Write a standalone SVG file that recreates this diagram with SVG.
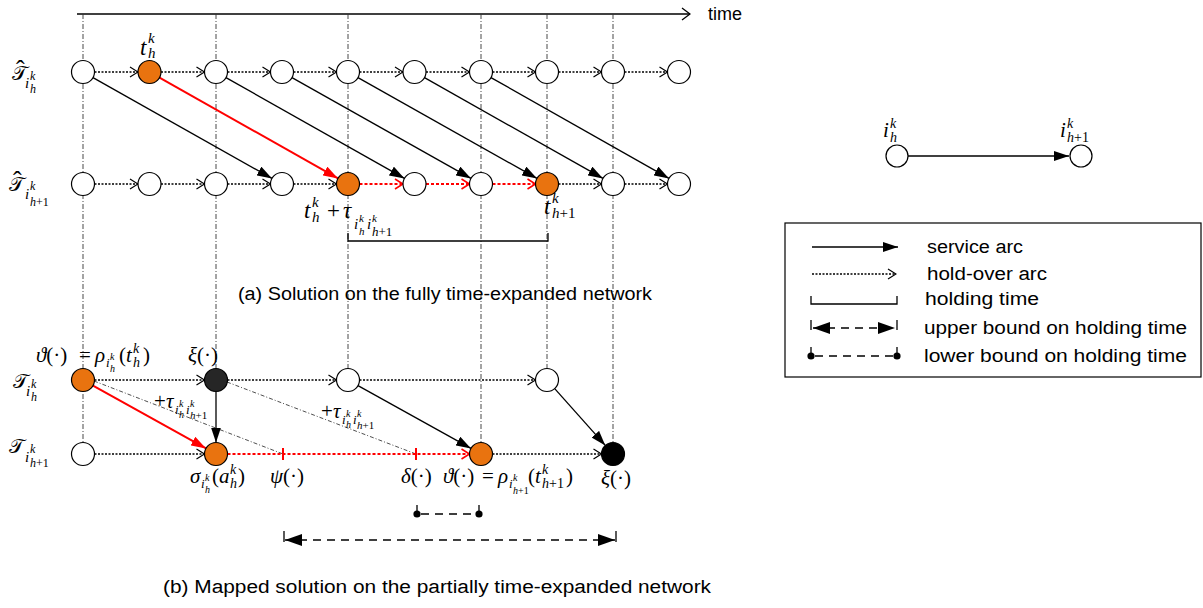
<svg xmlns="http://www.w3.org/2000/svg" width="1203" height="608" viewBox="0 0 1203 608">
  <style>
    .grid{stroke:#333;stroke-width:0.9;stroke-dasharray:5,2,1,2;fill:none}
    .guide{stroke:#222;stroke-width:0.8;stroke-dasharray:4,2,1,2;fill:none}
    .node{stroke:#000;stroke-width:1.2;fill:#fff}
    .sel{fill:#E9730F}
    .dark{fill:#262626}
    .blk{fill:#000}
    .svc{stroke:#000;stroke-width:1.3;fill:none;marker-end:url(#tri)}
    .svc-r{stroke:#f00;stroke-width:2;fill:none;marker-end:url(#tri-r)}
    .hold{stroke:#000;stroke-width:1.3;stroke-dasharray:2,1.5;fill:none;marker-end:url(#chev)}
    .hold-r{stroke:#f00;stroke-width:1.9;stroke-dasharray:3,2;fill:none;marker-end:url(#chev-r)}
    .line{stroke:#000;stroke-width:1.3;fill:none}
    .dash{stroke:#000;stroke-width:1.3;stroke-dasharray:8,6;fill:none}
    .txt{font-family:"Liberation Sans",Arial,sans-serif;font-size:18px;fill:#000}
    .mi{font-family:"Liberation Serif","DejaVu Serif",serif;font-style:italic;font-size:21px;fill:#000}
    .sc{font-family:"DejaVu Serif","DejaVu Sans","Noto Sans",serif;font-style:normal;font-size:20px}
    .hat{font-family:"Liberation Serif",serif;font-style:normal;font-size:26px}
    .u{font-style:normal}
    .big{font-size:23px}
    .s15{font-size:15px}
    .s14{font-size:14px}
    .s13{font-size:13px}
    .s12{font-size:12px}
    .s11{font-size:11px}
    .s10{font-size:10px}
  </style>
  <defs>
    <marker id="tri" viewBox="0 0 15 10" refX="15" refY="5" markerWidth="15" markerHeight="10" markerUnits="userSpaceOnUse" orient="auto">
      <path d="M0,0 L15,5 L0,10 z" fill="#000"/>
    </marker>
    <marker id="tri-r" viewBox="0 0 15 10" refX="15" refY="5" markerWidth="15" markerHeight="10" markerUnits="userSpaceOnUse" orient="auto">
      <path d="M0,0 L15,5 L0,10 z" fill="#f00"/>
    </marker>
    <marker id="tri-rev" viewBox="0 0 17 12" refX="0" refY="6" markerWidth="17" markerHeight="12" markerUnits="userSpaceOnUse" orient="auto">
      <path d="M0,6 L17,0 L17,12 z" fill="#000"/>
    </marker>
    <marker id="tri-fwd" viewBox="0 0 17 12" refX="17" refY="6" markerWidth="17" markerHeight="12" markerUnits="userSpaceOnUse" orient="auto">
      <path d="M0,0 L17,6 L0,12 z" fill="#000"/>
    </marker>
    <marker id="chev" viewBox="-1 -1 10 12" refX="8" refY="5" markerWidth="10" markerHeight="12" markerUnits="userSpaceOnUse" orient="auto">
      <path d="M0,0 L8,5 L0,10" fill="none" stroke="#000" stroke-width="1.2"/>
    </marker>
    <marker id="chev-r" viewBox="-1 -1 10 12" refX="8" refY="5" markerWidth="10" markerHeight="12" markerUnits="userSpaceOnUse" orient="auto">
      <path d="M0,0 L8,5 L0,10" fill="none" stroke="#f00" stroke-width="1.6"/>
    </marker>
    <marker id="chev-axis" viewBox="-1 -1 10 14" refX="8" refY="6" markerWidth="10" markerHeight="14" markerUnits="userSpaceOnUse" orient="auto">
      <path d="M0,0 L8,6 L0,12" fill="none" stroke="#000" stroke-width="1.3"/>
    </marker>
  </defs>

  <!-- time axis and vertical time grid -->
  <g id="time-axis">
    <line x1="77" y1="14" x2="690" y2="14" stroke="#000" stroke-width="1.3" marker-end="url(#chev-axis)"/>
    <text class="txt" x="708" y="20" font-size="19">time</text>
    <line class="grid" x1="83" y1="14" x2="83" y2="443"/>
    <line class="grid" x1="216" y1="14" x2="216" y2="369"/>
    <line class="grid" x1="348" y1="14" x2="348" y2="369"/>
    <line class="grid" x1="481" y1="14" x2="481" y2="443"/>
    <line class="grid" x1="547" y1="14" x2="547" y2="369"/>
    <line class="grid" x1="613" y1="14" x2="613" y2="443"/>
  </g>

  <!-- connectors -->
  <g id="connectors">
    <!-- (a) hold-over arcs, upper row -->
    <line class="hold" x1="94.5" y1="72" x2="138" y2="72"/>
    <line class="hold" x1="161" y1="72" x2="204.5" y2="72"/>
    <line class="hold" x1="227.5" y1="72" x2="270.5" y2="72"/>
    <line class="hold" x1="293.5" y1="72" x2="336.5" y2="72"/>
    <line class="hold" x1="359.5" y1="72" x2="403" y2="72"/>
    <line class="hold" x1="426" y1="72" x2="469.5" y2="72"/>
    <line class="hold" x1="492.5" y1="72" x2="535.5" y2="72"/>
    <line class="hold" x1="558.5" y1="72" x2="601.5" y2="72"/>
    <line class="hold" x1="624.5" y1="72" x2="667.5" y2="72"/>
    <!-- (a) hold-over arcs, lower row -->
    <line class="hold" x1="94.5" y1="184" x2="138" y2="184"/>
    <line class="hold" x1="161" y1="184" x2="204.5" y2="184"/>
    <line class="hold" x1="227.5" y1="184" x2="270.5" y2="184"/>
    <line class="hold" x1="293.5" y1="184" x2="336.5" y2="184"/>
    <line class="hold-r" x1="359.5" y1="184" x2="403" y2="184"/>
    <line class="hold-r" x1="426" y1="184" x2="469.5" y2="184"/>
    <line class="hold-r" x1="492.5" y1="184" x2="535.5" y2="184"/>
    <line class="hold" x1="558.5" y1="184" x2="601.5" y2="184"/>
    <line class="hold" x1="624.5" y1="184" x2="667.5" y2="184"/>
    <!-- (a) service arcs -->
    <line class="svc" x1="93" y1="77.6" x2="272" y2="178.4"/>
    <line class="svc" x1="226" y1="77.6" x2="404.5" y2="178.4"/>
    <line class="svc" x1="292" y1="77.6" x2="471" y2="178.4"/>
    <line class="svc" x1="358" y1="77.6" x2="537" y2="178.4"/>
    <line class="svc" x1="424.5" y1="77.6" x2="603" y2="178.4"/>
    <line class="svc" x1="491" y1="77.6" x2="669" y2="178.4"/>
    <line class="svc-r" x1="159.5" y1="77.6" x2="338" y2="178.4"/>
    <!-- (a) holding time bracket -->
    <path class="line" d="M348,233 V241 H548 V233"/>

    <!-- (b) travel-time guides -->
    <line class="guide" x1="94" y1="381" x2="283" y2="454"/>
    <line class="guide" x1="227" y1="382" x2="416" y2="454"/>
    <!-- (b) hold-over arcs -->
    <line class="hold" x1="94.5" y1="380" x2="204.5" y2="380"/>
    <line class="hold" x1="227.5" y1="380" x2="336.5" y2="380"/>
    <line class="hold" x1="359.5" y1="380" x2="535.5" y2="380"/>
    <line class="hold" x1="94.5" y1="454" x2="204.5" y2="454"/>
    <line class="hold-r" x1="227.5" y1="454" x2="469.5" y2="454"/>
    <line class="hold" x1="492.5" y1="454" x2="601.5" y2="454"/>
    <line stroke="#f00" stroke-width="2" x1="283" y1="448" x2="283" y2="460"/>
    <line stroke="#f00" stroke-width="2" x1="416" y1="448" x2="416" y2="460"/>
    <!-- (b) service arcs -->
    <line class="svc-r" x1="93" y1="385.6" x2="206" y2="448.4"/>
    <line class="svc" x1="216" y1="391.5" x2="216" y2="442.5"/>
    <line class="svc" x1="358" y1="385.6" x2="471" y2="448.4"/>
    <line class="svc" x1="554.7" y1="388.6" x2="605.3" y2="445.4"/>
    <!-- (b) bounds on holding time -->
    <line class="dash" x1="421" y1="514" x2="475" y2="514"/>
    <circle cx="417" cy="514" r="3.6" fill="#000"/>
    <circle cx="479" cy="514" r="3.6" fill="#000"/>
    <line class="line" x1="417" y1="505" x2="417" y2="514"/>
    <line class="line" x1="479" y1="505" x2="479" y2="514"/>
    <line class="dash" x1="285" y1="540" x2="615" y2="540" stroke-dasharray="9,6" marker-start="url(#tri-rev)" marker-end="url(#tri-fwd)"/>
    <line class="line" x1="284" y1="531" x2="284" y2="542"/>
    <line class="line" x1="616" y1="531" x2="616" y2="542"/>

    <!-- legend arc -->
    <line class="svc" x1="908" y1="156" x2="1069" y2="156"/>
  </g>

  <!-- (a) fully time-expanded network: upper row -->
  <g id="a-upper">
    <circle id="a-u0" class="node" cx="83" cy="72" r="11.5"/>
    <circle id="a-u1" class="node sel" cx="149.5" cy="72" r="11.5"/>
    <circle id="a-u2" class="node" cx="216" cy="72" r="11.5"/>
    <circle id="a-u3" class="node" cx="282" cy="72" r="11.5"/>
    <circle id="a-u4" class="node" cx="348" cy="72" r="11.5"/>
    <circle id="a-u5" class="node" cx="414.5" cy="72" r="11.5"/>
    <circle id="a-u6" class="node" cx="481" cy="72" r="11.5"/>
    <circle id="a-u7" class="node" cx="547" cy="72" r="11.5"/>
    <circle id="a-u8" class="node" cx="613" cy="72" r="11.5"/>
    <circle id="a-u9" class="node" cx="679" cy="72" r="11.5"/>
  </g>
  <!-- (a) lower row -->
  <g id="a-lower">
    <circle id="a-l0" class="node" cx="83" cy="184" r="11.5"/>
    <circle id="a-l1" class="node" cx="149.5" cy="184" r="11.5"/>
    <circle id="a-l2" class="node" cx="216" cy="184" r="11.5"/>
    <circle id="a-l3" class="node" cx="282" cy="184" r="11.5"/>
    <circle id="a-l4" class="node sel" cx="348" cy="184" r="11.5"/>
    <circle id="a-l5" class="node" cx="414.5" cy="184" r="11.5"/>
    <circle id="a-l6" class="node" cx="481" cy="184" r="11.5"/>
    <circle id="a-l7" class="node sel" cx="547" cy="184" r="11.5"/>
    <circle id="a-l8" class="node" cx="613" cy="184" r="11.5"/>
    <circle id="a-l9" class="node" cx="679" cy="184" r="11.5"/>
  </g>

  <!-- (b) partially time-expanded network -->
  <g id="b-upper">
    <circle id="b-u0" class="node sel" cx="83" cy="380" r="11.5"/>
    <circle id="b-u1" class="node dark" cx="216" cy="380" r="11.5"/>
    <circle id="b-u2" class="node" cx="348" cy="380" r="11.5"/>
    <circle id="b-u3" class="node" cx="547" cy="380" r="11.5"/>
  </g>
  <g id="b-lower">
    <circle id="b-l0" class="node" cx="83" cy="454" r="11.5"/>
    <circle id="b-l1" class="node sel" cx="216" cy="454" r="11.5"/>
    <circle id="b-l2" class="node sel" cx="481" cy="454" r="11.5"/>
    <circle id="b-l3" class="node blk" cx="613" cy="454" r="11.5"/>
  </g>

  <!-- legend nodes -->
  <g id="legend-nodes">
    <circle id="leg-i" class="node" cx="897" cy="156" r="11"/>
    <circle id="leg-j" class="node" cx="1081" cy="156" r="11"/>
    <text class="mi"><tspan x="883" y="137">i</tspan><tspan class="s14" x="890" y="128">k</tspan><tspan class="s14" x="890" y="142">h</tspan></text>
    <text class="mi"><tspan x="1060" y="137">i</tspan><tspan class="s14" x="1067" y="128">k</tspan><tspan class="s14" x="1067" y="142">h</tspan><tspan class="s14 u">+1</tspan></text>
  </g>

  <!-- (a) labels -->
  <g id="labels-a">
    <text class="mi"><tspan class="sc" x="12" y="80">𝒯</tspan><tspan class="hat" x="16" y="78">ˆ</tspan><tspan class="s15" x="25" y="88">i</tspan><tspan class="s12" x="30" y="80">k</tspan><tspan class="s12" x="30" y="93">h</tspan></text>

    <text class="mi"><tspan class="sc" x="9" y="191">𝒯</tspan><tspan class="hat" x="13" y="189">ˆ</tspan><tspan class="s15" x="25" y="199">i</tspan><tspan class="s12" x="30" y="190">k</tspan><tspan class="s12" x="30" y="206">h</tspan><tspan class="s12 u">+1</tspan></text>

    <text class="mi"><tspan class="big" x="140" y="55">t</tspan><tspan class="s15" x="148" y="43">k</tspan><tspan class="s15" x="148" y="58">h</tspan></text>

    <text class="mi"><tspan class="big" x="304" y="218">t</tspan><tspan class="s15" x="312" y="207">k</tspan><tspan class="s15" x="312" y="222">h</tspan><tspan class="big u" x="327" y="218">+</tspan><tspan class="big" x="343" y="218">τ</tspan><tspan class="s15" x="354" y="229">i</tspan><tspan class="s11" x="359" y="222">k</tspan><tspan class="s11" x="359" y="235">h</tspan><tspan class="s15" x="367" y="229">i</tspan><tspan class="s11" x="372" y="222">k</tspan><tspan class="s13" x="372" y="236">h</tspan><tspan class="s13 u">+1</tspan></text>

    <text class="mi"><tspan class="big" x="544" y="214">t</tspan><tspan class="s15" x="552" y="203">k</tspan><tspan class="s15" x="552" y="218">h</tspan><tspan class="s15 u">+1</tspan></text>

    <text class="txt" x="445" y="300" text-anchor="middle" textLength="414" lengthAdjust="spacingAndGlyphs">(a) Solution on the fully time-expanded network</text>
  </g>

  <!-- (b) labels -->
  <g id="labels-b">
    <text class="mi"><tspan class="sc" x="13" y="388">𝒯</tspan><tspan class="s15" x="26" y="396">i</tspan><tspan class="s12" x="31" y="388">k</tspan><tspan class="s12" x="31" y="401">h</tspan></text>

    <text class="mi"><tspan class="sc" x="9" y="453">𝒯</tspan><tspan class="s15" x="25" y="462">i</tspan><tspan class="s12" x="30" y="453">k</tspan><tspan class="s12" x="30" y="467">h</tspan><tspan class="s12 u">+1</tspan></text>

    <text class="mi"><tspan x="36" y="362">ϑ</tspan><tspan class="u">(·)</tspan><tspan class="u" x="79" y="362">=</tspan><tspan x="95" y="362">ρ</tspan><tspan class="s13" x="106" y="367">i</tspan><tspan class="s10" x="110" y="360">k</tspan><tspan class="s10" x="110" y="372">h</tspan><tspan class="u" x="119" y="362">(</tspan><tspan x="126" y="362">t</tspan><tspan class="s14" x="133" y="353">k</tspan><tspan class="s14" x="133" y="367">h</tspan><tspan class="u" x="143" y="362">)</tspan></text>

    <text class="mi" x="188" y="362">ξ<tspan class="u">(·)</tspan></text>

    <text class="mi" font-size="19"><tspan class="u" x="154" y="408">+</tspan><tspan x="166" y="408">τ</tspan><tspan class="s13" x="175" y="414">i</tspan><tspan class="s10" x="179" y="407">k</tspan><tspan class="s10" x="179" y="418">h</tspan><tspan class="s13" x="186" y="414">i</tspan><tspan class="s10" x="190" y="407">k</tspan><tspan class="s11" x="190" y="419">h</tspan><tspan class="s11 u">+1</tspan></text>

    <text class="mi" font-size="19"><tspan class="u" x="321" y="418">+</tspan><tspan x="333" y="418">τ</tspan><tspan class="s13" x="342" y="424">i</tspan><tspan class="s10" x="346" y="417">k</tspan><tspan class="s10" x="346" y="428">h</tspan><tspan class="s13" x="353" y="424">i</tspan><tspan class="s10" x="357" y="417">k</tspan><tspan class="s11" x="357" y="429">h</tspan><tspan class="s11 u">+1</tspan></text>

    <text class="mi"><tspan x="190" y="483">σ</tspan><tspan class="s13" x="201" y="488">i</tspan><tspan class="s10" x="205" y="481">k</tspan><tspan class="s10" x="205" y="493">h</tspan><tspan class="u" x="212" y="483">(</tspan><tspan x="219" y="483">a</tspan><tspan class="s14" x="230" y="474">k</tspan><tspan class="s14" x="230" y="488">h</tspan><tspan class="u" x="238" y="483">)</tspan></text>

    <text class="mi" x="270" y="483">ψ<tspan class="u">(·)</tspan></text>
    <text class="mi" x="401" y="483">δ<tspan class="u">(·)</tspan></text>

    <text class="mi"><tspan x="443" y="483">ϑ</tspan><tspan class="u">(·)</tspan><tspan class="u" x="482" y="483">=</tspan><tspan x="498" y="483">ρ</tspan><tspan class="s13" x="509" y="488">i</tspan><tspan class="s10" x="513" y="481">k</tspan><tspan class="s10" x="513" y="494">h</tspan><tspan class="s10 u">+1</tspan><tspan class="u" x="528" y="483">(</tspan><tspan x="535" y="483">t</tspan><tspan class="s14" x="542" y="474">k</tspan><tspan class="s14" x="542" y="488">h</tspan><tspan class="s14 u">+1</tspan><tspan class="u" x="566" y="483">)</tspan></text>

    <text class="mi" x="601" y="485">ξ<tspan class="u">(·)</tspan></text>

    <text class="txt" x="437" y="593" text-anchor="middle" textLength="548" lengthAdjust="spacingAndGlyphs">(b) Mapped solution on the partially time-expanded network</text>
  </g>

  <!-- legend -->
  <g id="legend">
    <rect x="785" y="223" width="416" height="154" fill="none" stroke="#000" stroke-width="1.2"/>
    <line class="svc" x1="812" y1="247" x2="898" y2="247"/>
    <text class="txt" x="927" y="253" textLength="96" lengthAdjust="spacingAndGlyphs">service arc</text>
    <line class="hold" x1="812" y1="274" x2="896" y2="274" stroke-width="1" stroke-dasharray="1.5,1.5"/>
    <text class="txt" x="927" y="280" textLength="120" lengthAdjust="spacingAndGlyphs">hold-over arc</text>
    <path class="line" d="M811,296 V304 H897 V296"/>
    <text class="txt" x="925" y="305" textLength="114" lengthAdjust="spacingAndGlyphs">holding time</text>
    <line class="dash" x1="813" y1="328" x2="895" y2="328" stroke-dasharray="8,6" marker-start="url(#tri-rev)" marker-end="url(#tri-fwd)"/>
    <line class="line" x1="811" y1="320" x2="811" y2="330"/>
    <line class="line" x1="897" y1="320" x2="897" y2="330"/>
    <text class="txt" x="924" y="334" textLength="263" lengthAdjust="spacingAndGlyphs">upper bound on holding time</text>
    <line class="dash" x1="815" y1="356" x2="893" y2="356" stroke-dasharray="8,6"/>
    <circle cx="811" cy="356" r="3.6" fill="#000"/>
    <circle cx="897" cy="356" r="3.6" fill="#000"/>
    <line class="line" x1="811" y1="347" x2="811" y2="356"/>
    <line class="line" x1="897" y1="347" x2="897" y2="356"/>
    <text class="txt" x="924" y="362" textLength="263" lengthAdjust="spacingAndGlyphs">lower bound on holding time</text>
  </g>
</svg>
